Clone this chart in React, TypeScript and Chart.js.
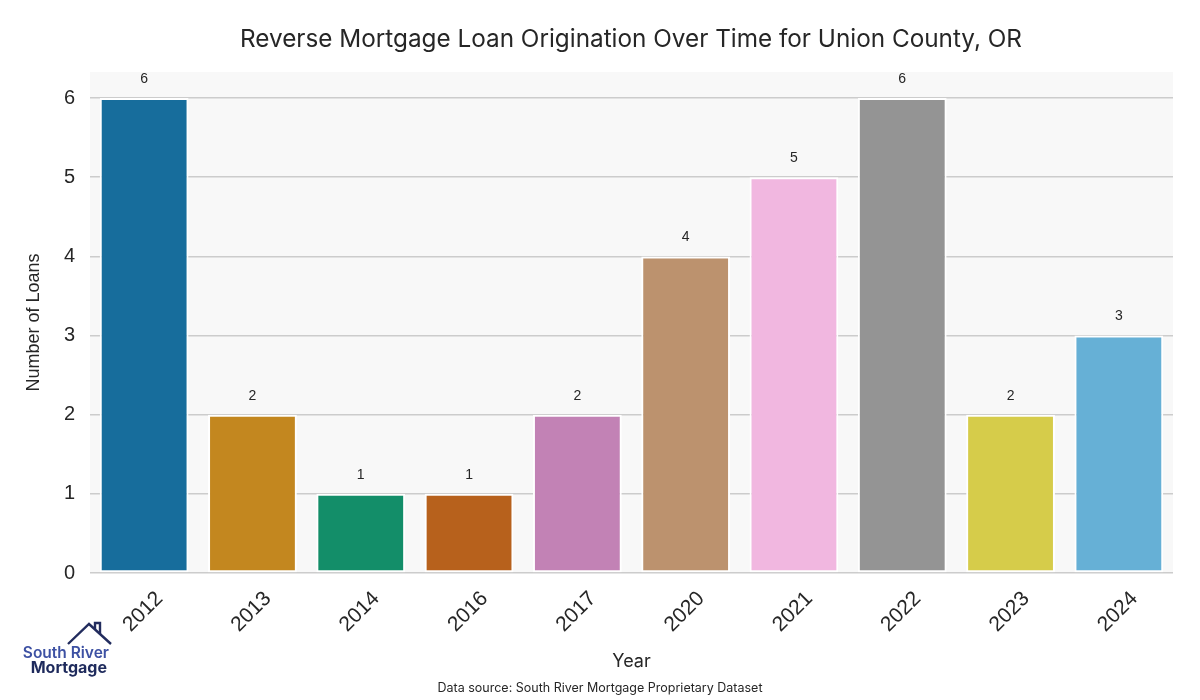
import React, { useEffect, useRef } from "react";
import { Chart, registerables } from "chart.js";

Chart.register(...registerables);

const years = ["2012", "2013", "2014", "2016", "2017", "2020", "2021", "2022", "2023", "2024"];
const loans = [6, 2, 1, 1, 2, 4, 5, 6, 2, 3];
const barColors = [
  "#176d9c", "#c3871f", "#138e69", "#b7611c", "#c282b5",
  "#bc926e", "#f1b7e0", "#949494", "#d6cc4a", "#66b0d6",
];
const yTicks = [0, 1, 2, 3, 4, 5, 6];
const titleText = "Reverse Mortgage Loan Origination Over Time for Union County, OR";
const yTitle = "Number of Loans";
const xTitle = "Year";
const sourceText = "Data source: South River Mortgage Proprietary Dataset";

const SANS = "'Liberation Sans', Arial, sans-serif";
const GEO = "Inter, 'Noto Sans', sans-serif";

const decorPlugin = {
  id: "decor",
  beforeDraw(chart: any) {
    const { ctx, chartArea } = chart;
    ctx.save();
    ctx.fillStyle = "#ffffff";
    ctx.fillRect(0, 0, chart.width, chart.height);
    ctx.fillStyle = "#f8f8f8";
    ctx.fillRect(chartArea.left, chartArea.top, chartArea.right - chartArea.left, chartArea.bottom - chartArea.top);
    ctx.restore();
  },
  afterDraw(chart: any) {
    const { ctx, chartArea } = chart;
    const xs = chart.scales.x;
    const meta = chart.getDatasetMeta(0);
    ctx.save();
    // title
    ctx.fillStyle = "#262626";
    ctx.textAlign = "center";
    ctx.textBaseline = "middle";
    ctx.font = `400 24.3px ${GEO}`;
    ctx.fillText(titleText, 631, 40);
    // value labels
    ctx.font = `400 14px ${SANS}`;
    ctx.fillStyle = "#262626";
    meta.data.forEach((bar: any, i: number) => {
      ctx.fillText(String(loans[i]), bar.x, bar.y - 19);
    });
    // x tick labels rotated
    ctx.font = `400 21px ${SANS}`;
    years.forEach((y, i) => {
      const x = xs.getPixelForValue(i);
      ctx.save();
      ctx.translate(x - 1, 612);
      ctx.rotate(-Math.PI / 4);
      ctx.textAlign = "center";
      ctx.textBaseline = "middle";
      ctx.fillText(y, 0, 0);
      ctx.restore();
    });
    // axis titles
    ctx.font = `400 18px ${GEO}`;
    ctx.fillText(xTitle, (chartArea.left + chartArea.right) / 2, 662);
    ctx.save();
    ctx.translate(34, (chartArea.top + chartArea.bottom) / 2);
    ctx.rotate(-Math.PI / 2);
    ctx.font = `400 18px ${SANS}`;
    ctx.fillText(yTitle, 0, 0);
    ctx.restore();
    // source
    ctx.font = `400 12.5px ${GEO}`;
    ctx.fillText(sourceText, 600, 688);
    // logo
    ctx.strokeStyle = "#222c5e";
    ctx.lineWidth = 2.4;
    ctx.lineJoin = "miter";
    ctx.beginPath();
    ctx.moveTo(68, 644);
    ctx.lineTo(89, 624);
    ctx.lineTo(111, 644);
    ctx.stroke();
    ctx.beginPath();
    ctx.moveTo(95, 629);
    ctx.lineTo(95, 623);
    ctx.lineTo(100, 623);
    ctx.lineTo(100, 634);
    ctx.stroke();
    ctx.textAlign = "right";
    ctx.textBaseline = "alphabetic";
    ctx.fillStyle = "#3d51a3";
    ctx.font = `600 15.5px ${GEO}`;
    ctx.fillText("South River", 109, 658);
    ctx.fillStyle = "#1e2a5c";
    ctx.font = `700 16px ${GEO}`;
    ctx.fillText("Mortgage", 107, 673);
    ctx.restore();
  },
};

export default function App() {
  const ref = useRef<HTMLCanvasElement | null>(null);
  useEffect(() => {
    document.body.style.margin = "0";
    const canvas = ref.current!;
    const chart = new Chart(canvas, {
      type: "bar",
      data: {
        labels: years,
        datasets: [
          {
            data: loans,
            backgroundColor: barColors,
            borderColor: "#ffffff",
            borderWidth: 2,
            borderSkipped: false,
            barPercentage: 0.82,
            categoryPercentage: 1,
          },
        ],
      },
      options: {
        animation: false,
        responsive: false,
        maintainAspectRatio: false,
        layout: { padding: { top: 72, right: 27, left: 0, bottom: 0 } },
        plugins: {
          legend: { display: false },
          tooltip: { enabled: false },
          title: { display: false },
        },
        scales: {
          x: {
            grid: { display: false },
            border: { display: false },
            ticks: { display: false },
            afterFit: (s: any) => { s.height = 127; },
          },
          y: {
            min: 0,
            max: 6.33,
            afterBuildTicks: (s: any) => { s.ticks = yTicks.map((v) => ({ value: v })); },
            grid: { color: "#cccccc", lineWidth: 1.6, drawTicks: false },
            border: { display: false },
            ticks: {
              padding: 15,
              color: "#262626",
              font: { size: 20, family: SANS },
            },
            afterFit: (s: any) => { s.width = 90; },
          },
        },
      },
      plugins: [decorPlugin],
    });
    return () => chart.destroy();
  }, []);
  return <canvas ref={ref} width={1200} height={700} style={{ display: "block" }} />;
}
